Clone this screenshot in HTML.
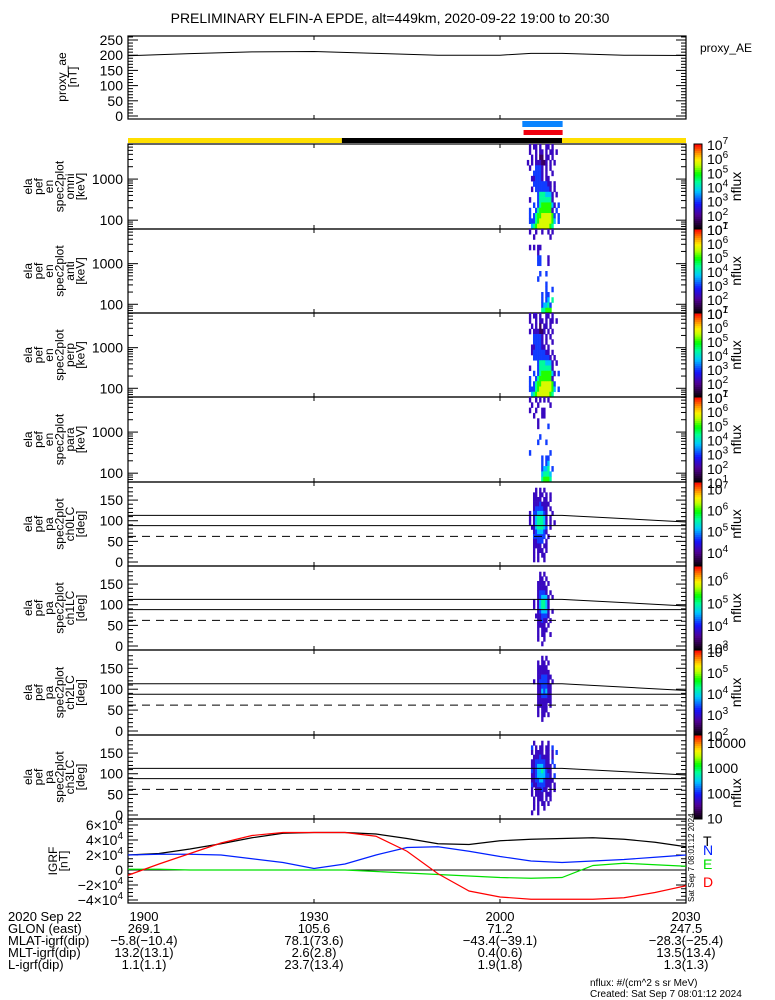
<!DOCTYPE html>
<html><head><meta charset="utf-8"><style>
html,body{margin:0;padding:0;background:#fff;width:775px;height:1000px;overflow:hidden}
svg{display:block;font-family:"Liberation Sans",sans-serif}
</style></head><body>
<svg id="s" width="775" height="1000" viewBox="0 0 775 1000"></svg>
<script>
// ---------- data ----------
const grfTimes=[0,5,10,15,20,25,30,35,40,45,50,55,60,65,70,75,80,85,90];
const grfT=[2.0,2.2,2.8,3.5,4.3,4.9,5.0,5.0,4.8,4.2,3.5,3.4,3.9,4.1,4.2,4.3,4.1,3.7,3.1];
const grfN=[2.0,2.1,2.1,2.0,1.5,1.0,0.2,0.8,2.0,3.0,3.1,2.5,1.8,1.2,1.0,1.2,1.4,1.7,2.0];
const grfE=[0.1,0.1,0.0,0.0,0.0,0.0,0.0,0.0,-0.2,-0.4,-0.6,-0.8,-1.0,-1.1,-1.0,0.6,0.9,0.7,0.5];
const grfD=[-0.7,0.8,2.2,3.6,4.6,5.0,5.0,5.0,4.5,2.5,-0.5,-2.8,-3.6,-3.9,-3.9,-3.9,-3.7,-3.0,-2.1];
const aeTimes=[0,10,20,30,40,50,60,65,70,80,90];
const aeVals=[198,205,211,212,206,200,200,206,206,200,199];
const specStart=64.0; // minutes after 19:00 of first column
const specStep=0.33;  // minutes per column
// digit = colour level 1..9 (0/. = no data), 16 rows top->bottom
const specOmni=["..2.22.2..22.2.....","..2..2.22.2.22.2...","...2.2.11.22.2.....",".2.2.222112.2.2....","..2..3332.2.2......","....33332.2..2.....","...223332.22.......","....333333322.2....","...2.33333332.2....","......35554442.2...","..2...35555552.....","....3.356666642.3..","..3..356666662.3...","..3.35667777763.3..","..3335677777764.3..","...45677777765....."];
const specAnti=["..2..2..2..2.2.....","....2.......2......","...................","..2.2.22...........","......2............","......33...2.......","......33...2.......","...................",".......3..3........","......3............","..........3........","..........3..3.....","........3.33.......","........3.34.5.....","........34453......","........55666......"];
const specPerp=["..2.22.2..22.2.....","..2..2.22.2.22.2...","...2.2.1.22.2......","..2.222112.2.2.....","....33332.2.2......","....33332.2..2.....","...2233322.2.......","...233333322.2.....","....333333332.2....","......35554442.2...","..2...35555552.....","....3.356666642.3..","..3..356666662.....","..3.35667777763....","..3335677777764.3..","...45677777765....."];
const specPara=["..2..2.2.2.2.......","...2..2.....2......","..2..2..22.........","....2...22.........","......2............","......2....3.......","...................",".......3...........","......3...3........","...................","..3.........3......","........3.33.......","........3.34.......","........3445.3.....","........45554......","........56665......"];
const pa0=[".....2.2.2.........","....22.22.2.2......","....2222.22.2......","....22232222.......","....2333322.2......","..2.3344432..2.....","..2.2455542.2......","..2.2455542.2.2....","...22455543.2......","....2344432........","....333333.2.......","....22333.2........","....2222.22........","....2.222.2........","....2.2.22.........","....2.2..2........."];
const pa1=[".......2.2.........",".......22.2........","......2222.2.......","......22222........","......23332.2......","......234442.2.....","....2.245542.......","....2.245542.......","......234442.2.....",".....2223332.......","......22322.2......","......2222.2.......","......2.222........","......2.22..2......","......2..2.........","........2.........."];
const pa2=["........2.2........","......2.22.2.......","......22222........","......222222.......","......2233322......","....2.233332.2.....","......2233322......","......2243422......","......2233322......","......2222222......","......22222.2......","......2.222........","......2.22.2.......","........2..........","...................","..................."];
const pa3=["....2...2..2.......","...3.2.22.22.3.....","...2.2222.22.2.3...","....22232222.2.....","...223333322.3.....","...2234443222.3....","...3234454322......","...2234444332.3....","...22334432222.....","...3223333222.2....","...2.222322.2.2....","...2.2222.222......","....2.222.2.2......","....2.2.22.2.......","....2.2..2.........","...2..2............."];
const paLines={t0:[0,66,70,90],up:[113,113,113,97],lo:[88,88,88,88],dash:62};

// ---------- helpers ----------
const S=document.getElementById('s');const NS='http://www.w3.org/2000/svg';
function el(t,a,p){const e=document.createElementNS(NS,t);for(const k in a)e.setAttribute(k,a[k]);(p||S).appendChild(e);return e;}
const X0=128,X1=686;
function tx(m){return X0+m*(X1-X0)/90;}
const stops=[[0,[0,0,0]],[0.07,[40,0,60]],[0.17,[80,0,150]],[0.3,[20,20,255]],[0.45,[0,200,255]],[0.56,[0,255,150]],[0.65,[0,255,0]],[0.75,[190,255,0]],[0.82,[255,240,0]],[0.9,[255,140,0]],[1,[255,0,0]]];
function cmap(f){f=Math.max(0,Math.min(1,f));for(let i=1;i<stops.length;i++){if(f<=stops[i][0]){const a=stops[i-1],b=stops[i];const u=(f-a[0])/(b[0]-a[0]);const c=a[1].map((v,j)=>Math.round(v+(b[1][j]-v)*u));return `rgb(${c})`;}}return 'rgb(255,0,0)';}
function text(x,y,s,o){o=o||{};const t=el('text',{x:x,y:y,'font-size':o.fs||13,'text-anchor':o.a||'start',fill:o.fill||'#000'},o.p);if(o.rot)t.setAttribute('transform',`rotate(-90 ${x} ${y})`);t.innerHTML=s;return t;}
function line(x1,y1,x2,y2,o){o=o||{};return el('line',{x1,y1,x2,y2,stroke:o.c||'#000','stroke-width':o.w||1,'stroke-dasharray':o.d||'none'},o.p);}
function pow(e){return `10<tspan dy="-6" font-size="10">${e}</tspan>`;}

// title
let t=text(390,23,'PRELIMINARY ELFIN-A EPDE, alt=449km, 2020-09-22 19:00 to 20:30',{a:'middle',fs:14});


function frame(top,bot,name){
  const g=el('g',{});
  el('rect',{x:X0,y:top,width:X1-X0,height:bot-top,fill:'none',stroke:'#000','stroke-width':1.2},g);
  [30,60].forEach(m=>{line(tx(m),bot,tx(m),bot-4,{p:g});line(tx(m),top,tx(m),top+4,{p:g});});
  return g;
}
function ylabel(lines,cx,cy,name){
  const g=el('g',{});
  const n=lines.length,lh=10.5;
  lines.forEach((s,i)=>{const x=cx-(n-1)*lh/2+i*lh+4;text(x,cy,s,{a:'middle',fs:12,rot:1,p:g});});
}

// ---------- proxy AE ----------
{const top=36,bot=119;const g=frame(top,bot,'proxy-ae-panel');
 const y=v=>bot-3-v*(bot-3-top-4)/250;
 for(let v=0;v<=260;v+=10){const L=v%50==0?10:5;line(X0,y(v),X0+L,y(v),{p:g});line(X1,y(v),X1-L,y(v),{p:g});}
 [0,50,100,150,200,250].forEach(v=>text(123,y(v)+5,v,{a:'end',fs:14,p:g}));
 const p=el('polyline',{fill:'none',stroke:'#000','stroke-width':1,points:aeTimes.map((m,i)=>tx(m)+','+y(aeVals[i])).join(' ')},g);
 
 ylabel(['proxy_ae','[nT]'],67,77,'proxy-ae-axis-title');
 const l=text(700,52,'proxy_AE',{fs:12});
}
// state bars
{const g=el('g',{});
 el('rect',{x:tx(63.6),y:121,width:tx(70.1)-tx(63.6),height:6,fill:'#0a84ff'},g);
 el('rect',{x:tx(63.8),y:130,width:tx(70.1)-tx(63.8),height:5,fill:'#f00010'},g);
 el('rect',{x:X0,y:138,width:tx(34.5)-X0,height:5,fill:'#ffdf00'},g);
 el('rect',{x:tx(34.5),y:138,width:tx(70)-tx(34.5),height:5,fill:'#000'},g);
 el('rect',{x:tx(70),y:138,width:X1-tx(70),height:5,fill:'#ffdf00'},g);}

// ---------- spectrogram panels ----------
const panels=[
 {top:144,bot:229,data:specOmni,kind:'en',name:'omni',lo:1,hi:7},
 {top:229,bot:313,data:specAnti,kind:'en',name:'anti',lo:1,hi:7},
 {top:313,bot:397,data:specPerp,kind:'en',name:'perp',lo:1,hi:7},
 {top:397,bot:482,data:specPara,kind:'en',name:'para',lo:1,hi:7},
 {top:482,bot:566,data:pa0,kind:'pa',name:'ch0LC',lo:3.33,hi:7.3},
 {top:566,bot:650,data:pa1,kind:'pa',name:'ch1LC',lo:2.9,hi:6.6},
 {top:650,bot:735,data:pa2,kind:'pa',name:'ch2LC',lo:2.0,hi:6.05},
 {top:735,bot:819,data:pa3,kind:'pa',name:'ch3LC',lo:0.95,hi:4.27}];
panels.forEach((P,pi)=>{
 const {top,bot}=P;const g=frame(top,bot,'panel-'+P.name);
 let yv; // value->pixel
 if(P.kind=='en'){const lt=Math.log10(7140),lb=Math.log10(61);yv=e=>top+(lt-Math.log10(e))*(bot-top)/(lt-lb);
   // ticks
   for(let d=10;d<=1000;d*=10)for(let k=1;k<10;k++){const e=d*k;if(e<61||e>7140)continue;const L=k==1?10:5;line(X0,yv(e),X0+L,yv(e),{p:g});line(X1,yv(e),X1-L,yv(e),{p:g});}
   [100,1000].forEach(v=>text(123,yv(v)+5,v,{a:'end',fs:14,p:g}));
 }else{yv=a=>bot-4-a*(bot-top-6)/189;
   for(let a=0;a<=180;a+=10){const L=a%50==0?10:5;line(X0,yv(a),X0+L,yv(a),{p:g});line(X1,yv(a),X1-L,yv(a),{p:g});}
   [0,50,100,150].forEach(v=>text(123,yv(v)+5,v,{a:'end',fs:14,p:g}));
 }
 // cells
 const rows=P.data.length;
 P.data.forEach((row,r)=>{for(let c=0;c<row.length;c++){const ch=row[c];if(ch=='.'||ch==' ')continue;const d=+ch;
   const logv=P.lo+d*(P.hi-P.lo)/9;
   const x=tx(specStart+c*specStep);const w=tx(specStart+(c+1)*specStep)-x;
   let y0,y1;
   if(P.kind=='en'){const lt=Math.log10(7140),lb=Math.log10(61);const e0=Math.pow(10,lt-(r)*(lt-lb)/rows),e1=Math.pow(10,lt-(r+1)*(lt-lb)/rows);y0=yv(e0);y1=yv(e1);}
   else{y0=yv(180-r*180/rows);y1=yv(180-(r+1)*180/rows);}
   const rc=el('rect',{x:x,y:y0,width:w+0.3,height:y1-y0+0.3,fill:cmap((logv-P.lo)/(P.hi-P.lo))},g);
   
   }});
 if(P.kind=='pa'){
   const pts=paLines.t0.map((m,i)=>tx(m)+','+yv(paLines.up[i])).join(' ');
   el('polyline',{points:pts,fill:'none',stroke:'#000'},g);
   el('polyline',{points:paLines.t0.map((m,i)=>tx(m)+','+yv(paLines.lo[i])).join(' '),fill:'none',stroke:'#000'},g);
   line(X0,yv(paLines.dash),X1,yv(paLines.dash),{d:'8,6',p:g});
 }
 ylabel(['ela','pef',P.kind=='en'?'en':'pa','spec2plot',P.name,P.kind=='en'?'[keV]':'[deg]'],54,(top+bot)/2,'y-axis-title-'+P.name);
 // colorbar
 const cb=el('g',{});
 const n=40;for(let i=0;i<n;i++){const y=bot-(i+1)*(bot-top)/n;el('rect',{x:694,y:y,width:8,height:(bot-top)/n+0.5,fill:cmap((i+0.5)/n)},cb);}
 el('rect',{x:694,y:top,width:8,height:bot-top,fill:'none',stroke:'#000'},cb);
 const cy=v=>bot-(v-P.lo)*(bot-top)/(P.hi-P.lo);
 for(let e=Math.ceil(P.lo);e<=Math.floor(P.hi);e++){
   if(pi==7)text(707,cy(e)+6,Math.pow(10,e),{fs:14,p:cb});
   else text(707,cy(e)+6,pow(e),{fs:14,p:cb});}
 text(741,(top+bot)/2+(pi==7?16:0),'nflux',{a:'middle',fs:14,rot:1,p:cb});
});

// ---------- IGRF panel ----------
{const top=819,bot=903;const g=frame(top,bot,'igrf-panel');
 const y=v=>870-v*7.5;
 for(let v=-4;v<=6.5;v+=0.5){if(y(v)<top||y(v)>bot)continue;const L=(v*2)%4==0?10:5;line(X0,y(v),X0+L,y(v),{p:g});line(X1,y(v),X1-L,y(v),{p:g});}
 line(X0,y(0),X1,y(0),{p:g});
 [[6,'6×10<tspan dy="-6" font-size="10">4</tspan>'],[4,'4×10<tspan dy="-6" font-size="10">4</tspan>'],[2,'2×10<tspan dy="-6" font-size="10">4</tspan>'],[0,'0'],[-2,'−2×10<tspan dy="-6" font-size="10">4</tspan>'],[-4,'−4×10<tspan dy="-6" font-size="10">4</tspan>']].forEach(a=>text(123,y(a[0])+5,a[1],{a:'end',fs:14,p:g}));
 const ser=[[grfT,'#000','T'],[grfN,'#0020ff','N'],[grfE,'#00e000','E'],[grfD,'#ff0000','D']];
 ser.forEach(s=>{const p=el('polyline',{points:grfTimes.map((m,i)=>tx(m)+','+y(s[0][i])).join(' '),fill:'none',stroke:s[1],'stroke-width':1.2},g);
   });
 [['T','#000',846],['N','#0020ff',855],['E','#00e000',869],['D','#ff0000',887]].forEach(a=>{const l=text(703,a[2],a[0],{fs:14,fill:a[1]});});
 ylabel(['IGRF','[nT]'],58,861,'igrf-axis-title');
 const st=text(694,902,'Sat Sep  7 08:01:12 2024',{fs:8,rot:1});
}

// ---------- bottom annotation ----------
const labels=['2020 Sep 22','GLON (east)','MLAT-igrf(dip)','MLT-igrf(dip)','L-igrf(dip)'];
const cols=[['1900','269.1','−5.8(−10.4)','13.2(13.1)','1.1(1.1)'],['1930','105.6','78.1(73.6)','2.6(2.8)','23.7(13.4)'],['2000','71.2','−43.4(−39.1)','0.4(0.6)','1.9(1.8)'],['2030','247.5','−28.3(−25.4)','13.5(13.4)','1.3(1.3)']];
{const g=el('g',{});
 labels.forEach((l,i)=>text(8,921+i*12,l,{fs:13,p:g}));
 cols.forEach((c,j)=>c.forEach((v,i)=>text(tx(j*30)+(j==0?16:0),921+i*12,v,{a:'middle',fs:13,p:g})));
 text(590,986,'nflux: #/(cm^2 s sr MeV)',{fs:10,p:g});
 text(590,997,'Created: Sat Sep  7 08:01:12 2024',{fs:10,p:g});}
</script>
</body></html>
